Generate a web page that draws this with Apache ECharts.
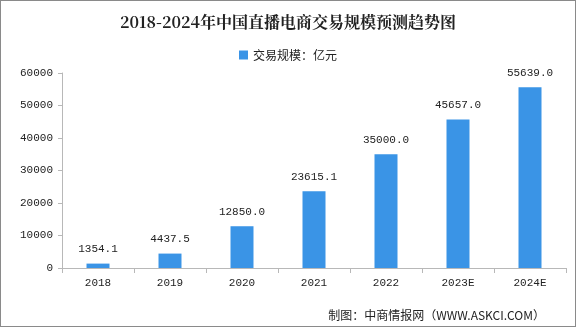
<!DOCTYPE html>
<html><head><meta charset="utf-8">
<script src="https://cdn.jsdelivr.net/npm/echarts@6/dist/echarts.min.js"></script>
<style>html,body{margin:0;padding:0;background:#fff}#c{width:576px;height:327px;box-sizing:border-box;border:1px solid #8a8a8a}</style>
</head><body><div id="c"></div>
<script>
const categories = ['2018','2019','2020','2021','2022','2023E','2024E'];
const values = [1354.1, 4437.5, 12850.0, 23615.1, 35000.0, 45657.0, 55639.0];
const seriesName = '交易规模：亿元';
const titleText = '2018-2024年中国直播电商交易规模预测趋势图';
const footerText = '制图：中商情报网（WWW.ASKCI.COM）';

const chart = echarts.init(document.getElementById('c'));
const mono = '"Liberation Mono","DejaVu Sans Mono",monospace';
chart.setOption({
  backgroundColor: '#fff',
  animation: false,
  title: {
    text: titleText, left: 'center', top: 8,
    textStyle: {fontSize: 16, fontWeight: 'bold', color: '#222', fontFamily: '"Noto Serif CJK SC","Noto Sans CJK SC",serif'}
  },
  legend: {
    top: 43, left: 'center', itemWidth: 9, itemHeight: 9, itemGap: 4,
    textStyle: {fontSize: 12, color: '#222', fontFamily: '"Noto Sans CJK SC",sans-serif'},
    data: [{name: seriesName, icon: 'rect'}]
  },
  graphic: [{
    type: 'text', right: 30, top: 308,
    style: {text: footerText, fontSize: 12, fill: '#222', fontFamily: '"Noto Sans CJK SC",sans-serif'}
  }],
  grid: {left: 61, right: 9, top: 72, bottom: 58, containLabel: false},
  xAxis: {
    type: 'category', data: categories,
    axisLine: {lineStyle: {color: '#b8b8b8'}},
    axisTick: {show: true, alignWithLabel: false, lineStyle: {color: '#b8b8b8'}, length: 5},
    axisLabel: {color: '#222', fontSize: 11, fontFamily: mono, margin: 10}
  },
  yAxis: {
    type: 'value', min: 0, max: 60000, interval: 10000,
    axisLine: {show: true, lineStyle: {color: '#b8b8b8'}},
    axisTick: {show: true, lineStyle: {color: '#b8b8b8'}, length: 4},
    splitLine: {show: false},
    axisLabel: {color: '#222', fontSize: 11, fontFamily: mono, margin: 9, formatter: v => String(v)}
  },
  series: [{
    name: seriesName, type: 'bar', data: values, barWidth: 23,
    itemStyle: {color: '#3a94e6'},
    label: {
      show: true, position: 'top', distance: 9, color: '#222', fontSize: 11, fontFamily: mono,
      formatter: p => p.value.toFixed(1)
    }
  }]
});
</script></body></html>
